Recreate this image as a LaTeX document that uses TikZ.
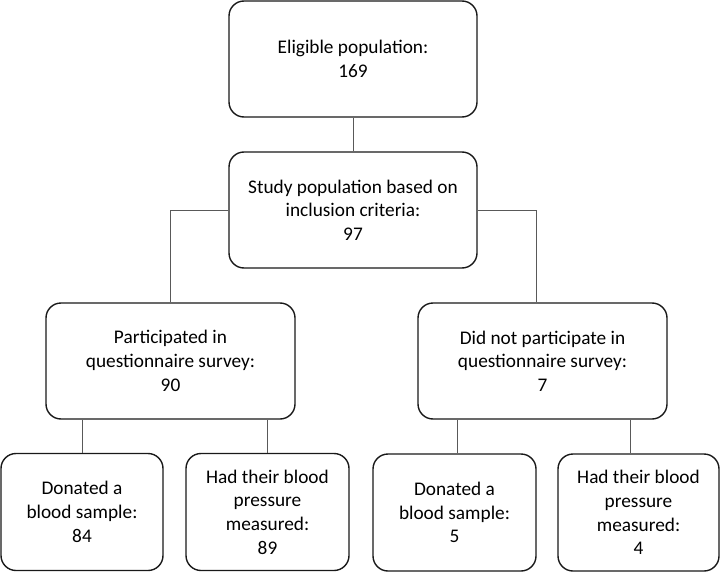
\documentclass[tikz,border=0pt]{standalone}
\usepackage{fontspec}
\setmainfont{Carlito}
\begin{document}
\begin{tikzpicture}[x=1pt,y=-1pt,
  box/.style={draw=black!90,line width=1.4pt,rounded corners=15pt,align=center,font=\fontsize{19.3}{23.7}\selectfont,inner sep=2pt},
  conn/.style={draw=black!65,line width=0.9pt}]
\useasboundingbox (0,0) rectangle (722,572);
\node[box,minimum width=248pt,minimum height=116pt] (b1) at (353,59) {Eligible population:\\169};
\node[box,minimum width=248pt,minimum height=116pt] (b2) at (353,210) {Study population based on\\inclusion criteria:\\97};
\node[box,minimum width=249pt,minimum height=116pt] (b3) at (170.5,361) {Participated in\\questionnaire survey:\\90};
\node[box,minimum width=249pt,minimum height=116pt] (b4) at (542.5,361) {Did not participate in\\questionnaire survey:\\7};
\node[box,minimum width=162pt,minimum height=117pt] (b5) at (82,512) {Donated a\\blood sample:\\84};
\node[box,minimum width=163pt,minimum height=117pt] (b6) at (267.5,512) {Had their blood\\pressure\\measured:\\89};
\node[box,minimum width=163pt,minimum height=117pt] (b7) at (454.5,512.5) {Donated a\\blood sample:\\5};
\node[box,minimum width=161pt,minimum height=117pt] (b8) at (638.5,512.5) {Had their blood\\pressure\\measured:\\4};
\coordinate (r4) at (536,0);
\coordinate (l7) at (457,0);
\coordinate (r8) at (630,0);
\draw[conn] (b1.south) -- (b2.north);
\draw[conn] (b2.west) -| (b3.north);
\draw[conn] (b2.east) -| (b4.north -| r4);
\draw[conn] (b3.south -| b5.north) -- (b5.north);
\draw[conn] (b3.south -| b6.north) -- (b6.north);
\draw[conn] (b4.south -| l7) -- (b7.north -| l7);
\draw[conn] (b4.south -| r8) -- (b8.north -| r8);
\end{tikzpicture}
\end{document}
